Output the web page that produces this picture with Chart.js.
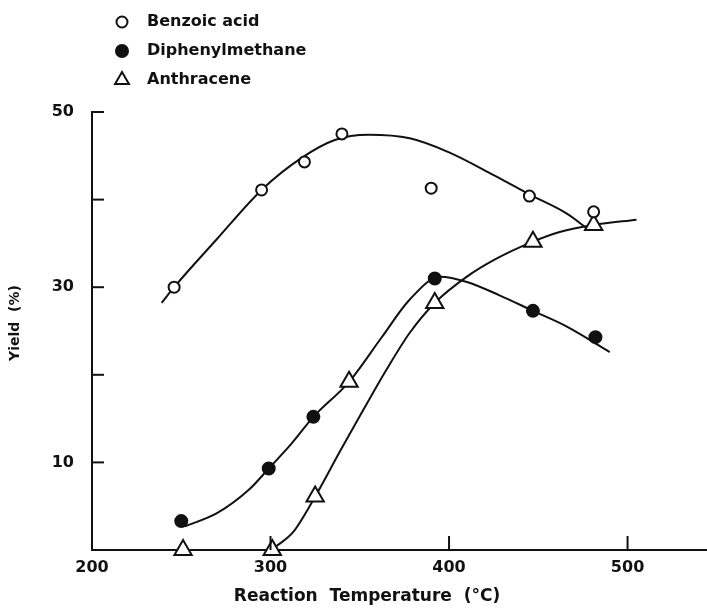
<!DOCTYPE html>
<html>
<head>
<meta charset="utf-8">
<script src="https://cdn.jsdelivr.net/npm/chart.js@4.4.0/dist/chart.umd.min.js"></script>
<style>
  body { margin: 0; background: #fff; }
  #wrap { width: 707px; height: 608px; }
</style>
</head>
<body>
<div id="wrap"><canvas id="yieldChart" width="707" height="608"></canvas></div>
<script>
// measured points (temperature in C, yield in %)
var benzoicT = [246, 295, 319, 340, 390, 445, 481];
var benzoicY = [30.0, 41.1, 44.3, 47.5, 41.3, 40.4, 38.6];
var dpmT = [250, 299, 324, 392, 447, 482];
var dpmY = [3.3, 9.3, 15.2, 31.0, 27.3, 24.3];
var anthT = [251, 301, 325, 344, 392, 447, 481];
var anthY = [0, 0, 6.1, 19.2, 28.2, 35.2, 37.1];

// hand drawn smooth curves
var benzoicCurveT = [239, 246, 270, 295, 317, 336, 355, 378, 400, 425, 445, 466, 478];
var benzoicCurveY = [28.2, 30.0, 35.5, 41.1, 44.7, 46.8, 47.4, 47.0, 45.4, 42.8, 40.6, 38.4, 36.6];
var dpmCurveT = [252, 270, 288, 299, 312, 324, 344, 362, 378, 395, 410, 428, 447, 466, 490];
var dpmCurveY = [2.7, 4.2, 6.9, 9.3, 12.2, 15.2, 19.2, 24.2, 28.6, 31.2, 30.6, 29.1, 27.3, 25.5, 22.6];
var anthCurveT = [303, 312.5, 325, 339, 352, 365, 378, 392, 410, 426, 447, 462, 481, 505];
var anthCurveY = [0.4, 2.0, 6.1, 11.3, 16.0, 20.6, 24.8, 28.2, 31.2, 33.2, 35.2, 36.3, 37.1, 37.7];

var seriesNames = ['Benzoic acid', 'Diphenylmethane', 'Anthracene'];
var xTickLabels = [200, 300, 400, 500];
var yTickLabels = [10, 30, 50];
var yTickMarks = [10, 20, 30, 40, 50];
var xTickMarks = [300, 400, 500];

var ink = '#111';
var fontFam = '"DejaVu Sans", sans-serif';

function pairs(xs, ys) {
    return xs.map(function (x, i) { return { x: x, y: ys[i] }; });
}

function markerSet(name, xs, ys, style, fill, r) {
    return {
        label: name,
        data: pairs(xs, ys),
        showLine: false,
        pointStyle: style,
        pointRadius: r,
        pointBorderWidth: 2,
        pointBorderColor: ink,
        pointBackgroundColor: fill,
        clip: false,
        order: 0
    };
}

function curveSet(xs, ys) {
    return {
        label: '',
        data: pairs(xs, ys),
        showLine: true,
        pointRadius: 0,
        borderColor: ink,
        borderWidth: 2,
        cubicInterpolationMode: 'monotone',
        fill: false,
        order: 1
    };
}

var legendStyles = [
    { pointStyle: 'circle', fill: '#fff', radius: 5.5 },
    { pointStyle: 'circle', fill: ink, radius: 6 },
    { pointStyle: 'triangle', fill: '#fff', radius: 8 }
];

// inward tick marks, axis titles and the little key at the top
var paperAxes = {
    id: 'paperAxes',
    afterDraw: function (chart) {
        var ctx = chart.ctx;
        var a = chart.chartArea;
        var xs = chart.scales.x, ys = chart.scales.y;
        ctx.save();
        ctx.strokeStyle = ink;
        ctx.lineWidth = 2;
        yTickMarks.forEach(function (v) {
            var p = ys.getPixelForValue(v);
            ctx.beginPath();
            ctx.moveTo(a.left, p);
            ctx.lineTo(a.left + 12, p);
            ctx.stroke();
        });
        xTickMarks.forEach(function (v) {
            var p = xs.getPixelForValue(v);
            ctx.beginPath();
            ctx.moveTo(p, a.bottom);
            ctx.lineTo(p, a.bottom - 14);
            ctx.stroke();
        });

        ctx.fillStyle = ink;
        ctx.textBaseline = 'middle';
        ctx.textAlign = 'center';
        ctx.font = 'bold 17px ' + fontFam;
        ctx.fillText('Reaction  Temperature  (°C)', 367, 597);

        ctx.save();
        ctx.translate(15, 323);
        ctx.rotate(-Math.PI / 2);
        ctx.font = 'bold 14px ' + fontFam;
        ctx.fillText('Yield  (%)', 0, 0);
        ctx.restore();

        ctx.textAlign = 'left';
        ctx.font = 'bold 16px ' + fontFam;
        seriesNames.forEach(function (name, i) {
            var st = legendStyles[i];
            var y = 22 + i * 29;
            ctx.fillStyle = st.fill;
            ctx.strokeStyle = ink;
            ctx.lineWidth = 2;
            Chart.helpers.drawPoint(ctx, { pointStyle: st.pointStyle, radius: st.radius, borderWidth: 2, rotation: 0 }, 122, y);
            ctx.fillStyle = ink;
            ctx.fillText(name, 147, y);
        });
        ctx.restore();
    }
};

var ctx = document.getElementById('yieldChart').getContext('2d');
var chart = new Chart(ctx, {
    type: 'scatter',
    data: {
        datasets: [
            markerSet(seriesNames[0], benzoicT, benzoicY, 'circle', '#fff', 5.5),
            markerSet(seriesNames[1], dpmT, dpmY, 'circle', ink, 6),
            markerSet(seriesNames[2], anthT, anthY, 'triangle', '#fff', 10),
            curveSet(benzoicCurveT, benzoicCurveY),
            curveSet(dpmCurveT, dpmCurveY),
            curveSet(anthCurveT, anthCurveY)
        ]
    },
    options: {
        responsive: false,
        animation: false,
        layout: {
            autoPadding: false,
            padding: { top: 112, right: 0, bottom: 0, left: 0 }
        },
        plugins: {
            legend: { display: false },
            tooltip: { enabled: false }
        },
        scales: {
            x: {
                type: 'linear',
                min: 200,
                max: 544.5,
                afterBuildTicks: function (s) {
                    s.ticks = xTickLabels.map(function (v) { return { value: v }; });
                },
                afterFit: function (s) {
                    s.height = 58;
                    s.paddingLeft = 0;
                    s.paddingRight = 0;
                },
                grid: { display: false, drawTicks: false },
                border: { display: true, color: ink, width: 2 },
                ticks: {
                    color: ink,
                    padding: 8,
                    maxRotation: 0,
                    font: { family: fontFam, size: 16, weight: 'bold' }
                }
            },
            y: {
                type: 'linear',
                min: 0,
                max: 50,
                afterBuildTicks: function (s) {
                    s.ticks = yTickLabels.map(function (v) { return { value: v }; });
                },
                afterFit: function (s) {
                    s.width = 92;
                    s.paddingLeft = 0;
                    s.paddingRight = 0;
                },
                grid: { display: false, drawTicks: false },
                border: { display: true, color: ink, width: 2 },
                ticks: {
                    color: ink,
                    padding: 18,
                    font: { family: fontFam, size: 16, weight: 'bold' }
                }
            }
        }
    },
    plugins: [paperAxes]
});
</script>
</body>
</html>
